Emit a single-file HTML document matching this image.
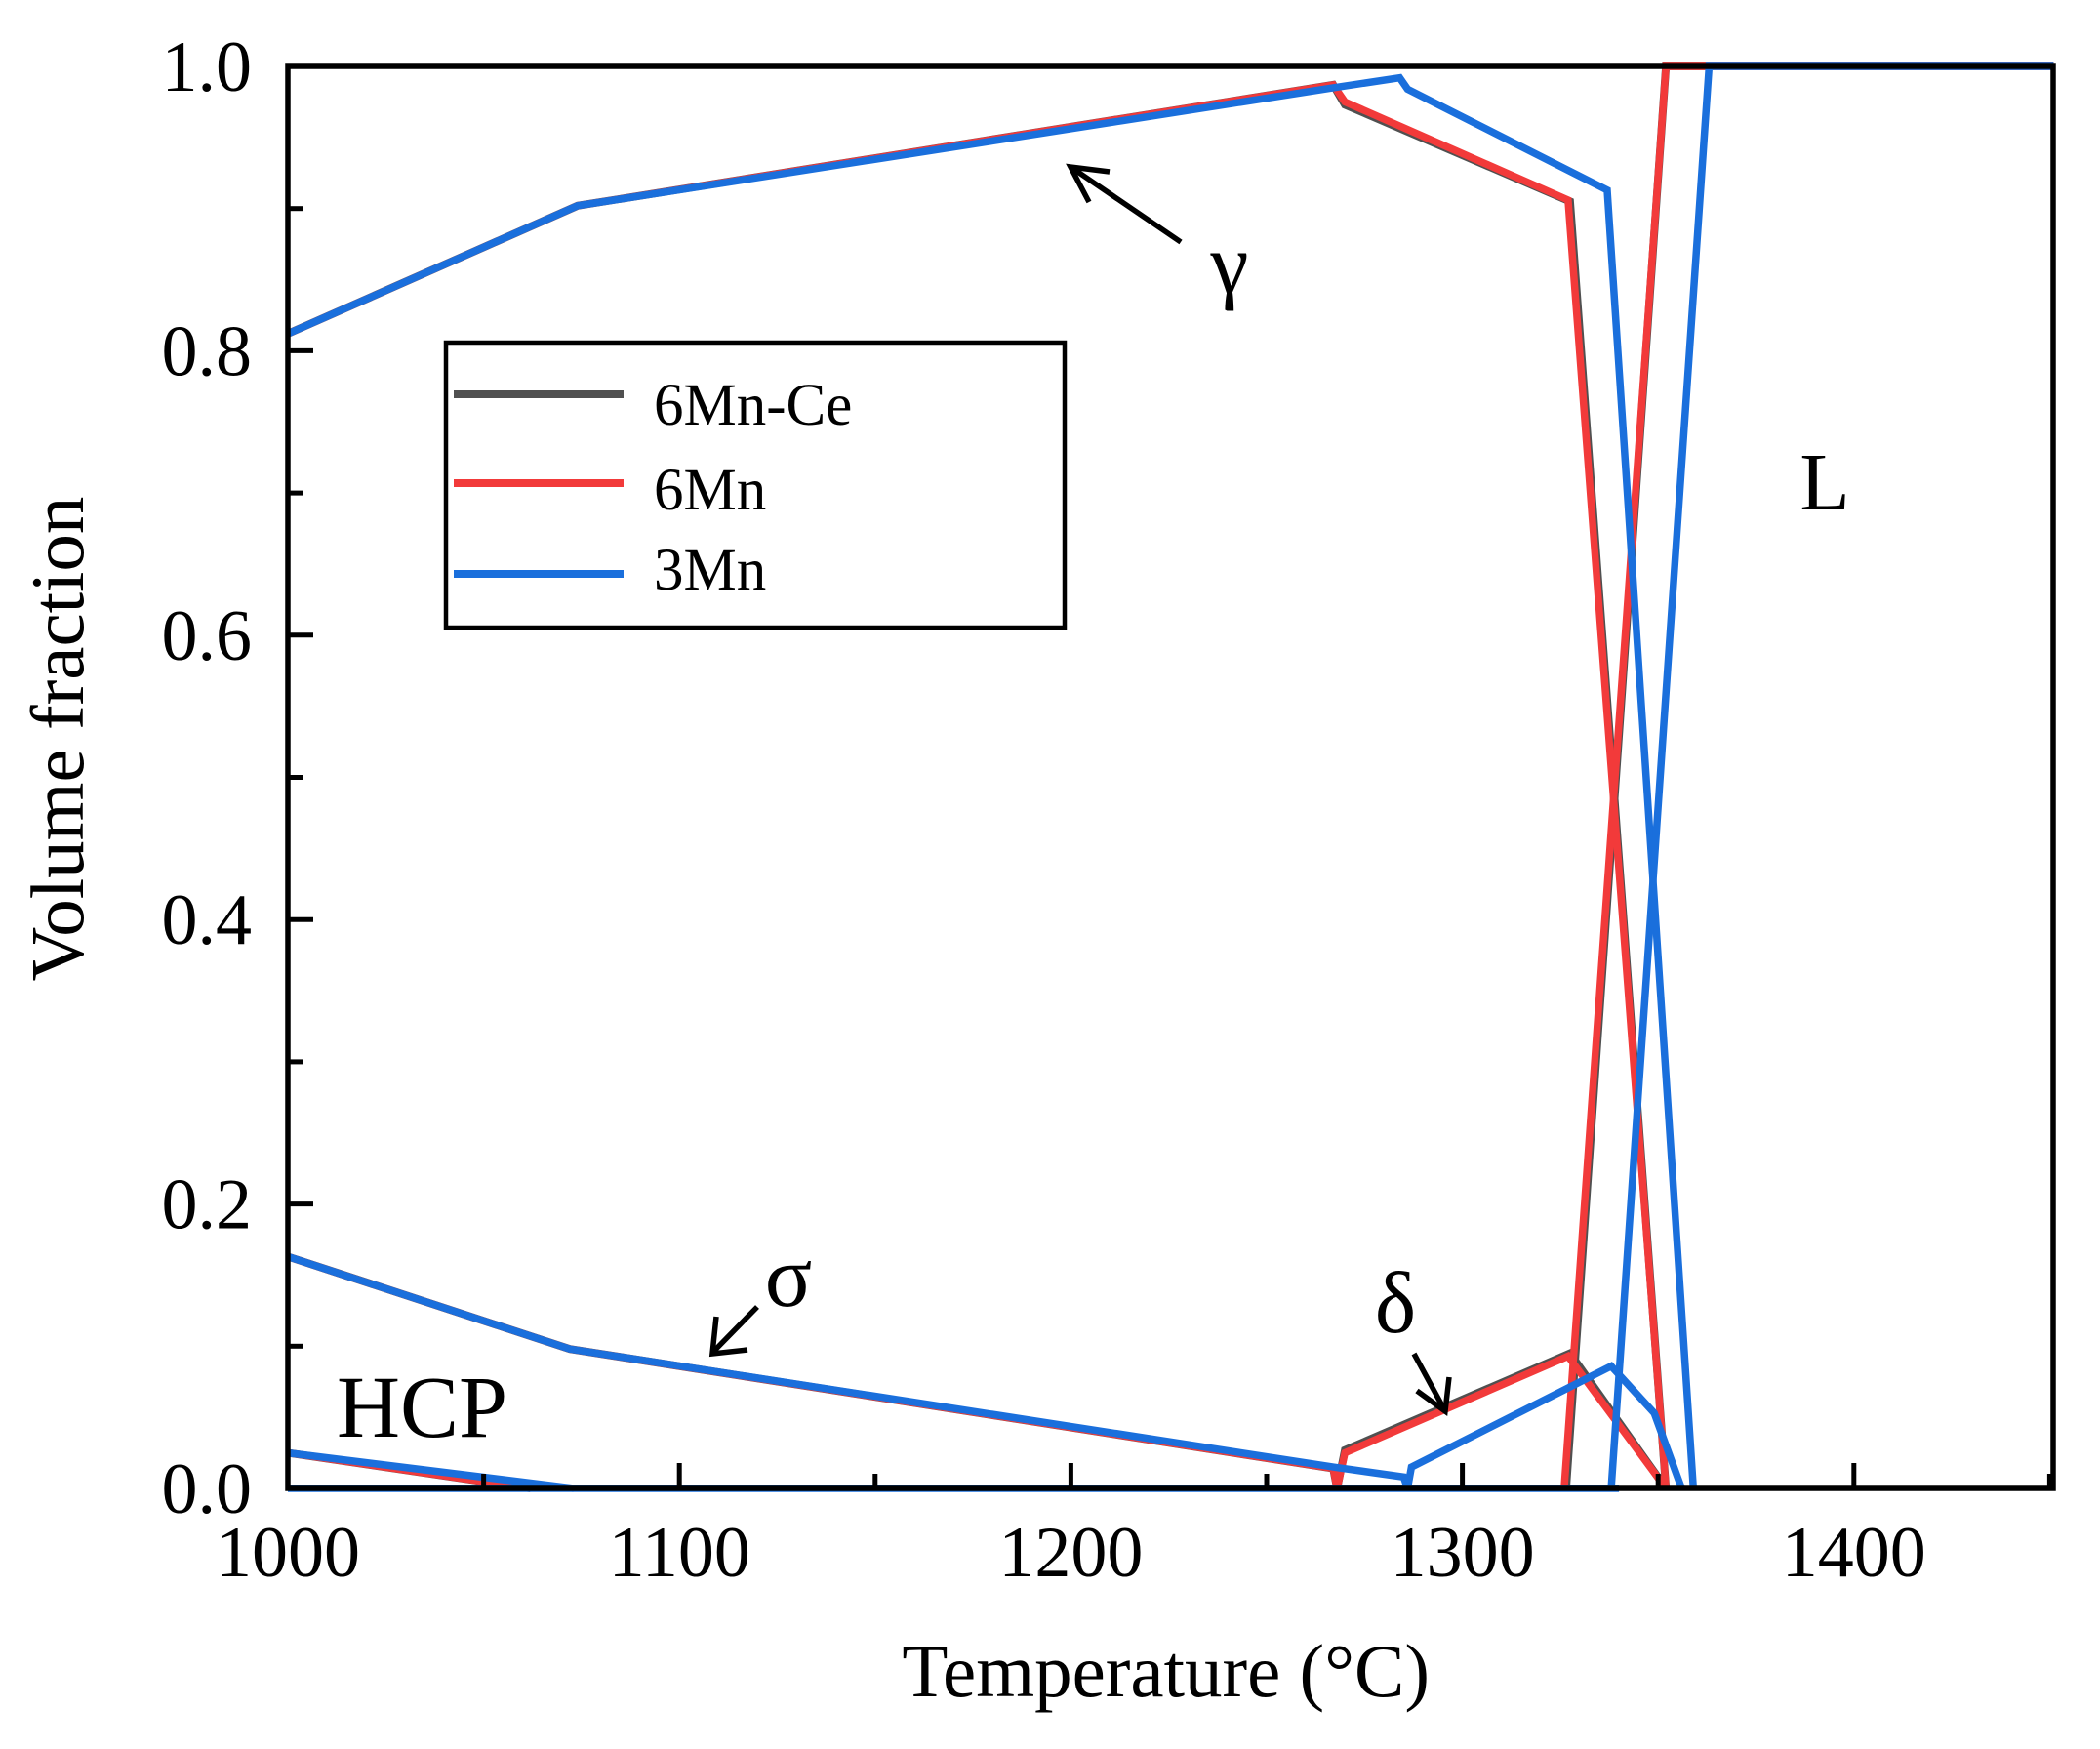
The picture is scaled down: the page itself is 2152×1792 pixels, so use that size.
<!DOCTYPE html>
<html><head><meta charset="utf-8"><style>
html,body{margin:0;padding:0;background:#fff;}
svg{display:block;font-family:"Liberation Serif","DejaVu Serif",serif;}
</style></head><body>
<svg id="chart" width="2152" height="1792" viewBox="0 0 2152 1792" xmlns="http://www.w3.org/2000/svg">
<g id="series"></g>
<g id="axes"></g>
</svg>
<script>
// ---- data (temperature °C, volume fraction) ----
const xTickValues = [1000, 1100, 1200, 1300, 1400];
const yTickValues = [0.0, 0.2, 0.4, 0.6, 0.8, 1.0];
const yTickLabels = ["0.0", "0.2", "0.4", "0.6", "0.8", "1.0"];
const seriesNames = ["6Mn-Ce", "6Mn", "3Mn"];
const seriesColors = ["#505050", "#f23a3a", "#1a6fdc"];

// 6Mn-Ce
const ceGammaT = [1000, 1074, 1267, 1270, 1327.5, 1352];
const ceGammaV = [0.812, 0.902, 0.987, 0.973, 0.905, 0.0];
const ceLiqT = [1326.5, 1352, 1451];
const ceLiqV = [0.0, 1.0, 1.0];
const ceSigmaT = [1000, 1072, 1267, 1268];
const ceSigmaV = [0.163, 0.098, 0.014, 0.0];
const ceDeltaT = [1268, 1270, 1327.5, 1352];
const ceDeltaV = [0.0, 0.027, 0.095, 0.0];
const ceHcpT = [1000, 1062];
const ceHcpV = [0.025, 0.0];

// 6Mn
const mnGammaT = [1000, 1074, 1267, 1270, 1327, 1352];
const mnGammaV = [0.812, 0.902, 0.987, 0.975, 0.906, 0.0];
const mnLiqT = [1326, 1352, 1451];
const mnLiqV = [0.0, 1.0, 1.0];
const mnSigmaT = [1000, 1072, 1267, 1268];
const mnSigmaV = [0.163, 0.098, 0.014, 0.0];
const mnDeltaT = [1268, 1270, 1327, 1352];
const mnDeltaV = [0.0, 0.025, 0.093, 0.0];
const mnHcpT = [1000, 1062];
const mnHcpV = [0.025, 0.0];

// 3Mn
const bGammaT = [1000, 1074, 1267, 1284, 1286, 1337, 1359];
const bGammaV = [0.812, 0.902, 0.985, 0.992, 0.984, 0.913, 0.0];
const bLiqT = [1338, 1363, 1451];
const bLiqV = [0.0, 1.0, 1.0];
const bSigmaT = [1000, 1072, 1267, 1285, 1286];
const bSigmaV = [0.163, 0.098, 0.015, 0.008, 0.0];
const bDeltaT = [1286, 1287, 1338, 1349, 1356];
const bDeltaV = [0.0, 0.015, 0.086, 0.053, 0.0];
const bHcpT = [1000, 1073];
const bHcpV = [0.025, 0.0];
const bBaseT = [1000, 1340];
const bBaseV = [0.0, 0.0];

// ---- scales ----
const X0 = 295, XPX = 4.012; // px per °C
const Y0 = 1525, YPX = 1457; // px per unit fraction
function xs(t){ return X0 + (t - 1000) * XPX; }
function ys(v){ return Y0 - v * YPX; }
const NS = "http://www.w3.org/2000/svg";
const series = document.getElementById('series');
const axes = document.getElementById('axes');

function mk(tag, attrs, parent){
  const e = document.createElementNS(NS, tag);
  for (const k in attrs) e.setAttribute(k, attrs[k]);
  parent.appendChild(e);
  return e;
}
function line(T, V, color, name, width){
  const pts = T.map((t,i)=> xs(t).toFixed(1)+','+ys(V[i]).toFixed(1)).join(' ');
  const p = mk('polyline', {points: pts, fill:'none', stroke: color, 'stroke-width': width||7.5, 'stroke-linejoin':'miter'}, series);
  
  
}
// 6Mn-Ce (under)
line(ceGammaT, ceGammaV, seriesColors[0], '6mn-ce-gamma-line', 8);
line(ceLiqT, ceLiqV, seriesColors[0], '6mn-ce-liquid-line', 8);
line(ceSigmaT, ceSigmaV, seriesColors[0], '6mn-ce-sigma-line', 8);
line(ceDeltaT, ceDeltaV, seriesColors[0], '6mn-ce-delta-line', 8);
line(ceHcpT, ceHcpV, seriesColors[0], '6mn-ce-hcp-line', 8);
// 6Mn
line(mnGammaT, mnGammaV, seriesColors[1], '6mn-gamma-line');
line(mnLiqT, mnLiqV, seriesColors[1], '6mn-liquid-line');
line(mnSigmaT, mnSigmaV, seriesColors[1], '6mn-sigma-line');
line(mnDeltaT, mnDeltaV, seriesColors[1], '6mn-delta-line');
line(mnHcpT, mnHcpV, seriesColors[1], '6mn-hcp-line');
// 3Mn
line(bBaseT, bBaseV, seriesColors[2], '3mn-baseline');
line(bGammaT, bGammaV, seriesColors[2], '3mn-gamma-line');
line(bLiqT, bLiqV, seriesColors[2], '3mn-liquid-line');
line(bSigmaT, bSigmaV, seriesColors[2], '3mn-sigma-line');
line(bDeltaT, bDeltaV, seriesColors[2], '3mn-delta-line');
line(bHcpT, bHcpV, seriesColors[2], '3mn-hcp-line');

// ---- axes frame ----
const L = xs(1000), R = 2104, T = ys(1), B = ys(0);
const frame = mk('rect', {x:L, y:T, width:R-L, height:B-T, fill:'none', stroke:'#000', 'stroke-width':5.5}, axes);



// x ticks
for (let t = 1000; t <= 1450; t += 50){
  const major = (t % 100 === 0);
  const tk = mk('line', {x1: xs(t), x2: xs(t), y1: B, y2: B - (major ? 26 : 15), stroke:'#000', 'stroke-width':5}, axes);
  
  
}
xTickValues.forEach(v=>{
  const tx = mk('text', {x: xs(v), y: 1615, 'text-anchor':'middle', 'font-size':74}, axes);
  tx.textContent = String(v);
  
  
});
// y ticks
for (let i = 0; i <= 10; i++){
  const v = i / 10;
  const major = (i % 2 === 0);
  const tk = mk('line', {x1: L, x2: L + (major ? 26 : 15), y1: ys(v), y2: ys(v), stroke:'#000', 'stroke-width':5}, axes);
  
  
}
yTickValues.forEach((v,i)=>{
  const tx = mk('text', {x: 258, y: ys(v) + 25, 'text-anchor':'end', 'font-size':74}, axes);
  tx.textContent = yTickLabels[i];
  
  
});
</script>
<svg style="position:absolute;left:0;top:0" width="2152" height="1792" viewBox="0 0 2152 1792" xmlns="http://www.w3.org/2000/svg">
<g font-family="Liberation Serif, DejaVu Serif, serif" fill="#000">
<text x="1465" y="1738" text-anchor="end" font-size="77">Temperature (°C)</text>
<text transform="translate(85,757) rotate(-90)" text-anchor="middle" font-size="77">Volume fraction</text>
<g>
<rect x="457" y="351" width="634" height="292" fill="#fff" stroke="#000" stroke-width="4.5"/>
<line x1="465" y1="404" x2="639" y2="404" stroke="#505050" stroke-width="8"/>
<text x="670" y="435" font-size="61">6Mn-Ce</text>
<line x1="465" y1="495" x2="639" y2="495" stroke="#f23a3a" stroke-width="8"/>
<text x="670" y="522" font-size="61">6Mn</text>
<line x1="465" y1="588" x2="639" y2="588" stroke="#1a6fdc" stroke-width="8"/>
<text x="670" y="604" font-size="61">3Mn</text>
</g>
<text x="1260" y="300" text-anchor="middle" font-size="88">γ</text>
<g stroke="#000" stroke-width="5.5" fill="none">
<line x1="1210" y1="248" x2="1100" y2="173"/><polyline points="1116,207 1097,171 1137,176"/></g>
<text x="808" y="1338" text-anchor="middle" font-size="90">σ</text>
<g stroke="#000" stroke-width="5.5" fill="none">
<line x1="776" y1="1339" x2="731" y2="1385"/><polyline points="734,1349 730,1387 766,1383"/></g>
<text x="1430" y="1365" text-anchor="middle" font-size="90">δ</text>
<g stroke="#000" stroke-width="5.5" fill="none">
<line x1="1449" y1="1387" x2="1480" y2="1444"/><polyline points="1452,1425 1481,1446 1485,1411"/></g>
<text x="345" y="1472" font-size="90">HCP</text>
<text x="1870" y="522" text-anchor="middle" font-size="84">L</text>
</g>
</svg>
</body></html>
